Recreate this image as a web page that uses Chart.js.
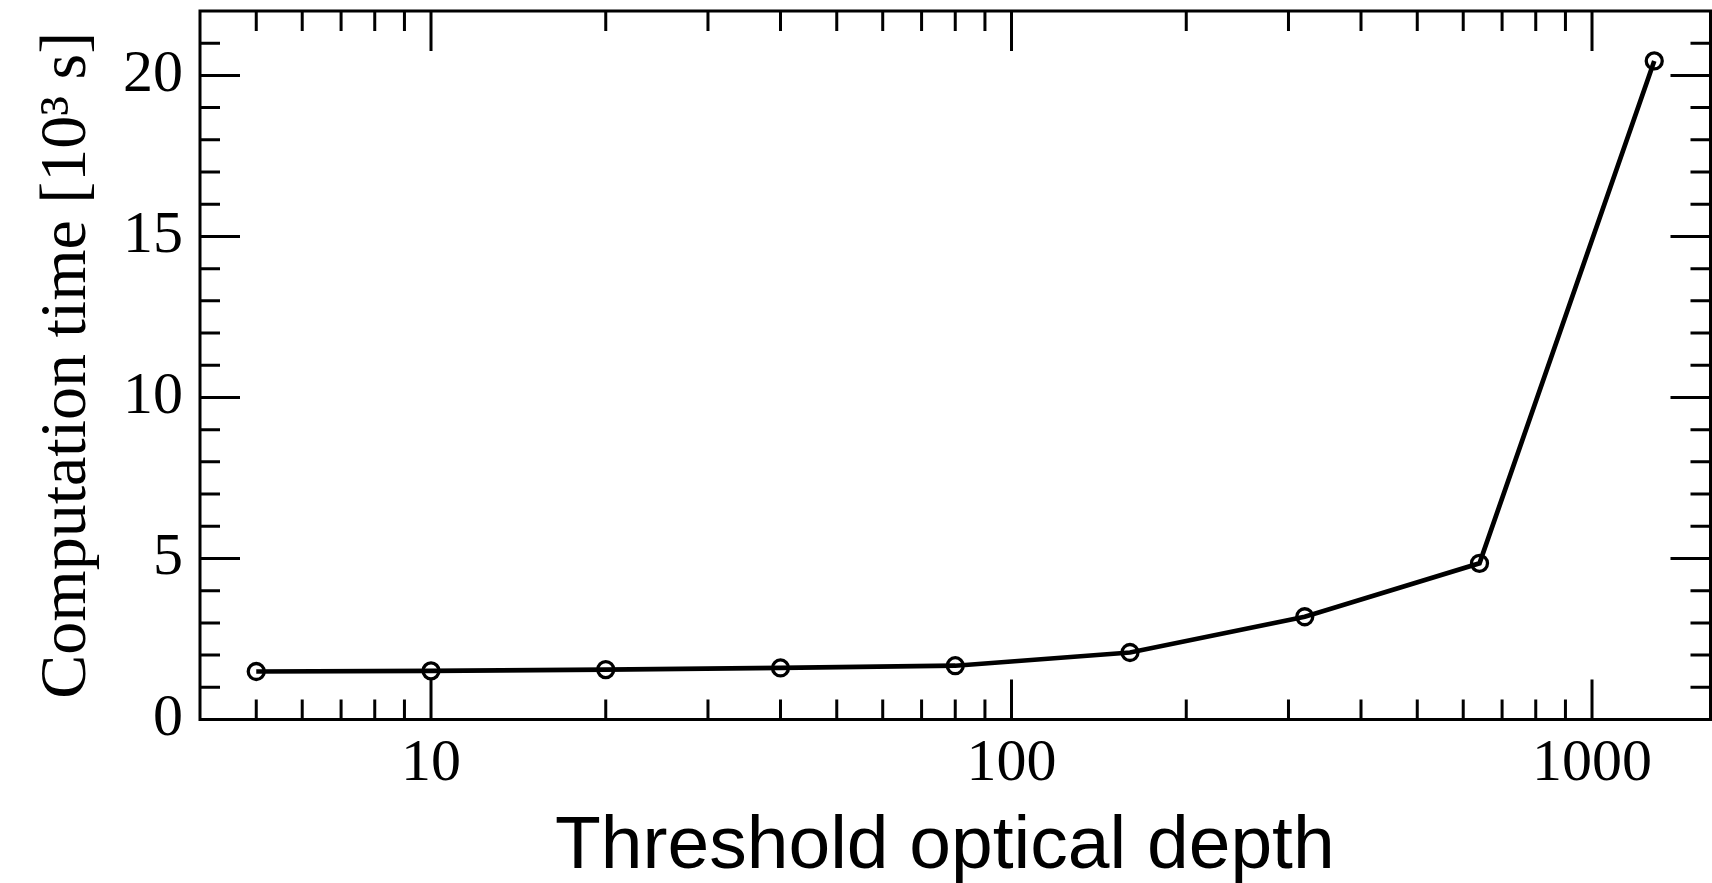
<!DOCTYPE html>
<html><head><meta charset="utf-8">
<script src="https://cdn.jsdelivr.net/npm/chart.js@4"></script>
<style>html,body{margin:0;padding:0;background:#fff}#wrap{width:1712px;height:883px}</style>
</head><body><div id="wrap"><canvas id="c" width="1712" height="883"></canvas></div>
<script>
const thresholds = [5, 10, 20, 40, 80, 160, 320, 640, 1280];
const computeTimes = [1.49, 1.51, 1.55, 1.60, 1.67, 2.08, 3.19, 4.85, 20.45];
const xMajorTicks = [10, 100, 1000];
const xMinorTicks = [5, 6, 7, 8, 9, 20, 30, 40, 50, 60, 70, 80, 90, 200, 300, 400, 500, 600, 700, 800, 900];
const yMajorTicks = [0, 5, 10, 15, 20];
const yMinorTicks = [1, 2, 3, 4, 6, 7, 8, 9, 11, 12, 13, 14, 16, 17, 18, 19, 21];
const xLabel = 'Threshold optical depth ';
const yLabel = 'Computation time [10\u00B3 s]';

const frameTicks = {
  id: 'frameTicks',
  beforeDatasetsDraw(chart) {
    const {ctx, chartArea: {left, right, top, bottom}, scales: {x, y}} = chart;
    ctx.save();
    ctx.strokeStyle = '#000';
    ctx.lineCap = 'butt';
    ctx.lineWidth = 3;
    ctx.strokeRect(left, top, right - left, bottom - top);
    const drawX = (vals, len) => vals.forEach(v => {
      const px = x.getPixelForValue(v);
      ctx.beginPath();
      ctx.moveTo(px, bottom); ctx.lineTo(px, bottom - len);
      ctx.moveTo(px, top); ctx.lineTo(px, top + len);
      ctx.stroke();
    });
    const drawY = (vals, len) => vals.forEach(v => {
      const py = y.getPixelForValue(v);
      ctx.beginPath();
      ctx.moveTo(left, py); ctx.lineTo(left + len, py);
      ctx.moveTo(right, py); ctx.lineTo(right - len, py);
      ctx.stroke();
    });
    drawX(xMajorTicks, 40); drawX(xMinorTicks, 20);
    drawY(yMajorTicks, 40); drawY(yMinorTicks, 20);
    ctx.restore();
  }
};

new Chart(document.getElementById('c'), {
  type: 'line',
  data: {
    datasets: [{
      data: thresholds.map((t, i) => ({x: t, y: computeTimes[i]})),
      borderColor: '#000',
      borderWidth: 4.7,
      tension: 0,
      pointRadius: 8,
      pointBorderWidth: 3.3,
      pointBorderColor: '#000',
      pointBackgroundColor: 'rgba(0,0,0,0)',
      clip: false
    }]
  },
  options: {
    responsive: false,
    animation: false,
    devicePixelRatio: 1,
    layout: {autoPadding: false, padding: {top: 11, right: 1.5, left: 0, bottom: 0}},
    plugins: {legend: {display: false}, tooltip: {enabled: false}},
    scales: {
      x: {
        type: 'logarithmic',
        position: 'bottom',
        min: 4, max: 1600,
        grid: {display: false, drawTicks: false},
        border: {display: false},
        afterBuildTicks: s => { s.ticks = xMajorTicks.map(v => ({value: v})); },
        afterFit: s => { s.height = 163.5; s.paddingLeft = 0; s.paddingRight = 0; },
        ticks: {
          autoSkip: false, maxRotation: 0, padding: 9, color: '#000',
          font: {family: 'Liberation Serif', size: 60},
          callback: v => String(v)
        },
        title: {
          display: true, text: xLabel, color: '#000',
          font: {family: 'Liberation Sans', size: 75, lineHeight: 0.95},
          padding: {top: 0, bottom: 0}
        }
      },
      y: {
        type: 'linear',
        min: 0, max: 22,
        grid: {display: false, drawTicks: false},
        border: {display: false},
        afterBuildTicks: s => { s.ticks = yMajorTicks.map(v => ({value: v})); },
        afterFit: s => { s.width = 200; s.paddingTop = 0; s.paddingBottom = 0; },
        ticks: {
          padding: 17, color: '#000',
          font: {family: 'Liberation Serif', size: 60},
          callback: v => String(v)
        },
        title: {
          display: true, text: yLabel, color: '#000',
          font: {family: 'Liberation Serif', size: 66},
          padding: {top: 28, bottom: 0}
        }
      }
    }
  },
  plugins: [frameTicks]
});
</script></body></html>
